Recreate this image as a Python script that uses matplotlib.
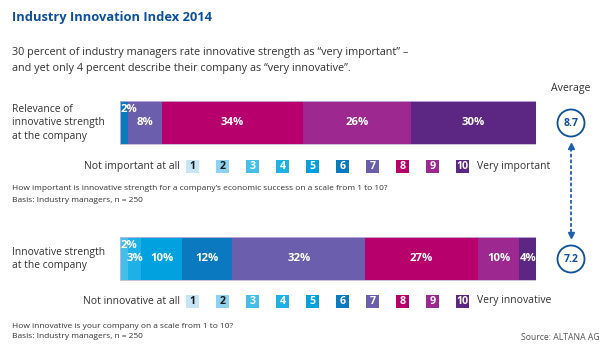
import matplotlib as mpl
mpl.use('Agg')
import matplotlib.pyplot as plt
from matplotlib.patches import Rectangle, Circle

plt.rcParams['font.family'] = ['Open Sans', 'DejaVu Sans']

# data
scale = [1, 2, 3, 4, 5, 6, 7, 8, 9, 10]
relevance = [0, 0, 0, 0, 0, 2, 8, 34, 26, 30]
strength = [0, 0, 2, 3, 10, 12, 32, 27, 10, 4]
averages = [8.7, 7.2]
bar_labels = ['Relevance of\ninnovative strength\nat the company',
              'Innovative strength\nat the company']
low_labels = ['Not important at all', 'Not innovative at all']
high_labels = ['Very important', 'Very innovative']
questions = ["How important is innovative strength for a company\u2019s economic success on a scale from 1 to 10?",
             'How innovative is your company on a scale from 1 to 10?']
basis = 'Basis: Industry managers, n = 250'

colors = ['#c6e6f6', '#8ed2f0', '#45bfea', '#1db1e8', '#00a1de',
          '#0a79bf', '#6a5ead', '#b8006c', '#9c2890', '#5c2783']
num_colors = ['#1a1a1a', '#1a1a1a'] + ['white'] * 8
title_blue = '#0d4f9f'
text_col = '#333333'

fig = plt.figure(figsize=(6.15, 3.5), dpi=100)
ax = fig.add_axes([0, 0, 1, 1])
ax.set_xlim(0, 615)
ax.set_ylim(350, 0)
ax.axis('off')

# bars on their own axes, 0-100 percent
bx = fig.add_axes([120 / 615, 0, 416 / 615, 1])
bx.set_xlim(0, 100)
bx.set_ylim(350, 0)
bx.axis('off')
bx.patch.set_alpha(0)

bar_y = [122.5, 258.5]
for yc, vals in zip(bar_y, [relevance, strength]):
    left = 0
    for i, v in enumerate(vals):
        if v == 0:
            continue
        bx.barh(yc, v, left=left, height=43, color=colors[i], linewidth=0)
        if v <= 2:
            bx.text(left + 0.2, yc - 13, '%d%%' % v, ha='left', va='center',
                    color='white', fontsize=8.2, fontweight='bold')
        else:
            bx.text(left + v / 2, yc, '%d%%' % v, ha='center', va='center',
                    color='white', fontsize=8.2, fontweight='bold')
        left += v
    # thin outline around the whole bar
    bx.barh(yc, left, left=0, height=43, fill=False, edgecolor='#c8b6dc', linewidth=0.6)

# title and subtitle
ax.text(12, 17, 'Industry Innovation Index 2014', ha='left', va='center',
        color=title_blue, fontsize=9.3, fontweight='bold')
ax.text(12, 52, '30 percent of industry managers rate innovative strength as \u201cvery important\u201d \u2013',
        ha='left', va='center', color=text_col, fontsize=7.8)
ax.text(12, 69, 'and yet only 4 percent describe their company as \u201cvery innovative\u201d.',
        ha='left', va='center', color=text_col, fontsize=7.8)

# row labels
ax.text(12, 123, bar_labels[0], ha='left', va='center', color=text_col,
        fontsize=7.4, linespacing=1.3)
ax.text(12, 259, bar_labels[1], ha='left', va='center', color=text_col,
        fontsize=7.4, linespacing=1.3)

# scale legends
legend_y = [166, 301]
for k, ly in enumerate(legend_y):
    ax.text(180, ly, low_labels[k], ha='right', va='center', color=text_col, fontsize=7.5)
    for i, s in enumerate(scale):
        x0 = 186 + 30 * i
        ax.add_patch(Rectangle((x0, ly - 6.5), 13, 13, color=colors[i], lw=0))
        ax.text(x0 + 6.5, ly + 0.5, str(s), ha='center', va='center',
                color=num_colors[i], fontsize=7.7, fontweight='bold')
    ax.text(477, ly, high_labels[k], ha='left', va='center', color=text_col, fontsize=7.5)

# footnotes
ax.text(12, 189, questions[0], ha='left', va='center', color=text_col, fontsize=6.0)
ax.text(12, 201, basis, ha='left', va='center', color=text_col, fontsize=6.0)
ax.text(12, 326, questions[1], ha='left', va='center', color=text_col, fontsize=6.0)
ax.text(12, 337, basis, ha='left', va='center', color=text_col, fontsize=6.0)
ax.text(600, 337, 'Source: ALTANA AG', ha='right', va='center', color='#555555', fontsize=6.2)

# averages
ax.text(571, 88, 'Average', ha='center', va='center', color=text_col, fontsize=7.6)
for yc, avg in zip(bar_y, averages):
    ax.add_patch(Circle((571, yc + 0.5), 13.5, facecolor='white',
                        edgecolor=title_blue, lw=1.3))
    ax.text(571, yc + 0.5, '%.1f' % avg, ha='center', va='center',
            color=title_blue, fontsize=7.5, fontweight='bold')
ax.plot([571, 571], [148, 233], color='#1d5fae', lw=1.3, ls=(0, (2, 1.2)))
ax.plot([571], [146], marker='^', color='#1d5fae', markersize=5)
ax.plot([571], [235], marker='v', color='#1d5fae', markersize=5)

plt.savefig('out.png', dpi=100)
plt.close()
